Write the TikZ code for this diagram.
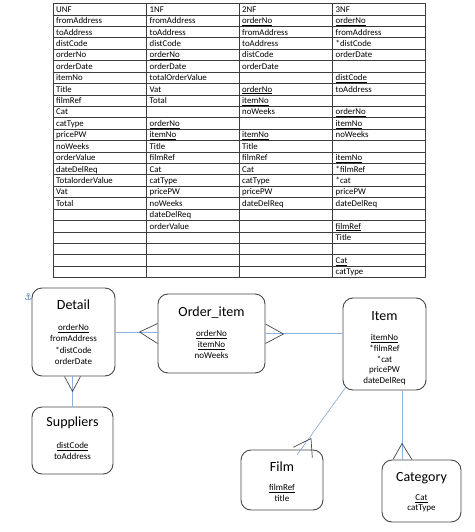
\documentclass[tikz,border=0pt]{standalone}
\usepackage{fontspec}
\setmainfont{Carlito}
\newfontfamily\symfont{DejaVu Sans}
\usetikzlibrary{positioning}
\definecolor{linkblue}{RGB}{140,178,222}
\definecolor{markblue}{RGB}{79,129,189}
\definecolor{boxgrey}{RGB}{70,70,70}
\definecolor{gridgrey}{RGB}{60,60,60}
\newcommand\pk[1]{\underline{#1}}
\tikzset{
  entity/.style={draw=boxgrey, line width=0.9pt, rounded corners=10pt, inner sep=0pt},
  etitle/.style={font=\fontsize{14}{16}\selectfont, inner sep=0pt},
  attr/.style={anchor=base, inner sep=0pt, font=\fontsize{9}{11}\selectfont},
  cell/.style={anchor=base west, inner sep=0pt, font=\fontsize{8.8}{10}\selectfont},
  link/.style={draw=linkblue, line width=0.7pt},
  prong/.style={draw=boxgrey, line width=0.7pt},
  grid/.style={draw=gridgrey, line width=0.6pt}
}
\begin{document}
\begin{tikzpicture}[x=1pt,y=-1pt]
\useasboundingbox (0,0) rectangle (474,532);
% normal forms table
\foreach \r in {0,...,24}
  \draw[grid] (53,3.5+\r*11.417) -- (425,3.5+\r*11.417);
\foreach \cx in {53,146.5,239,332.5,425}
  \draw[grid] (\cx,3.5) -- (\cx,277.5);
\foreach \t [count=\r from 0] in {UNF,fromAddress,toAddress,distCode,orderNo,orderDate,itemNo,Title,filmRef,Cat,catType,pricePW,noWeeks,orderValue,dateDelReq,TotalorderValue,Vat,Total}
  \node[cell] (unf-\r) at (56,12.2+\r*11.417) {\t};
\foreach \t [count=\r from 0] in {1NF,fromAddress,toAddress,distCode,\pk{orderNo},orderDate,totalOrderValue,Vat,Total,{},\pk{orderNo},\pk{itemNo},Title,filmRef,Cat,catType,pricePW,noWeeks,dateDelReq,orderValue}
  \node[cell] (one-\r) at (149.5,12.2+\r*11.417) {\t};
\foreach \t [count=\r from 0] in {2NF,\pk{orderNo},fromAddress,toAddress,distCode,orderDate,{},\pk{orderNo},\pk{itemNo},noWeeks,{},\pk{itemNo},Title,filmRef,Cat,catType,pricePW,dateDelReq}
  \node[cell] (two-\r) at (242,12.2+\r*11.417) {\t};
\foreach \t [count=\r from 0] in {3NF,\pk{orderNo},fromAddress,*distCode,orderDate,{},\pk{distCode},toAddress,{},\pk{orderNo},\pk{itemNo},noWeeks,{},\pk{itemNo},*filmRef,*cat,pricePW,dateDelReq,{},\pk{filmRef},Title,{},\pk{Cat},catType}
  \node[cell] (three-\r) at (335.5,12.2+\r*11.417) {\t};

% entities
\node[entity, minimum width=83pt, minimum height=88pt] (detail) at (73.5,332) {};
\node[etitle, below=21.5pt of detail.north, anchor=base] (detail-t) {Detail};
\foreach \a [count=\i from 0] in {\pk{orderNo},fromAddress,*distCode,orderDate}
  \node[attr] (detail-\i) at ([shift={(0,21.5+11.3*\i)}]detail-t.base) {\a};
\node[font=\symfont\fontsize{9.5}{10}\selectfont, text=markblue, inner sep=0pt] (anchormark) at (28.5,297.5) {⚓};

\node[entity, minimum width=107pt, minimum height=79pt] (orderitem) at (211.5,333.5) {};
\node[etitle, below=23.3pt of orderitem.north, anchor=base] (orderitem-t) {Order\_item};
\foreach \a [count=\i from 0] in {\pk{orderNo},\pk{itemNo},noWeeks}
  \node[attr] (orderitem-\i) at ([shift={(0,20+11*\i)}]orderitem-t.base) {\a};

\node[entity, minimum width=83pt, minimum height=92pt] (item) at (384.5,344) {};
\node[etitle, below=22.7pt of item.north, anchor=base] (item-t) {Item};
\foreach \a [count=\i from 0] in {\pk{itemNo},*filmRef,*cat,pricePW,dateDelReq}
  \node[attr] (item-\i) at ([shift={(0,20.3+10.8*\i)}]item-t.base) {\a};

\node[entity, minimum width=81pt, minimum height=67pt] (suppliers) at (72.5,440.5) {};
\node[etitle, below=20.3pt of suppliers.north, anchor=base] (suppliers-t) {Suppliers};
\foreach \a [count=\i from 0] in {\pk{distCode},toAddress}
  \node[attr] (suppliers-\i) at ([shift={(0,21.7+11*\i)}]suppliers-t.base) {\a};

\node[entity, minimum width=82pt, minimum height=60pt] (film) at (282,480) {};
\node[etitle, below=21.7pt of film.north, anchor=base] (film-t) {Film};
\foreach \a [count=\i from 0] in {\pk{filmRef},title}
  \node[attr] (film-\i) at ([shift={(0,19.3+11*\i)}]film-t.base) {\a};

\node[entity, minimum width=79pt, minimum height=62pt] (category) at (421.5,491) {};
\node[etitle, below=22.3pt of category.north, anchor=base] (category-t) {Category};
\foreach \a [count=\i from 0] in {\pk{Cat},catType}
  \node[attr] (category-\i) at ([shift={(0,18.7+10*\i)}]category-t.base) {\a};

% relationships
\draw[link] (detail.east) -- (detail.east -| orderitem.west);
\draw[prong] ([shift={(0,-10)}]orderitem.west) -- ([shift={(-18,-1.5)}]orderitem.west) -- ([shift={(0,10)}]orderitem.west);

\draw[link] (orderitem.east) -- (orderitem.east -| item.west);
\draw[prong] ([shift={(0,-9.5)}]orderitem.east) -- ([shift={(18,0.5)}]orderitem.east) -- ([shift={(0,10)}]orderitem.east);

\coordinate (supplink) at (suppliers.north);
\draw[link] (supplink |- detail.south) -- (supplink);
\draw[prong] ([shift={(-8,0)}]supplink |- detail.south) -- ([shift={(0,15)}]supplink |- detail.south) -- ([shift={(8,0)}]supplink |- detail.south);

\coordinate (catlink) at ([shift={(-19.5,0)}]category.north);
\draw[link] (catlink |- item.south) -- (catlink);
\draw[prong] ([shift={(-9,0)}]catlink) -- ([shift={(0,-16)}]catlink) -- ([shift={(10,0)}]catlink);

\coordinate (filmlink) at ([shift={(15.3,5)}]film.north);
\draw[link] ([shift={(3,-3)}]item.south west) -- (filmlink);
\draw[prong] ([shift={(11.3,-2.3)}]film.north) -- ([shift={(29,-11)}]film.north) -- ([shift={(30.3,8)}]film.north);
\end{tikzpicture}
\end{document}
